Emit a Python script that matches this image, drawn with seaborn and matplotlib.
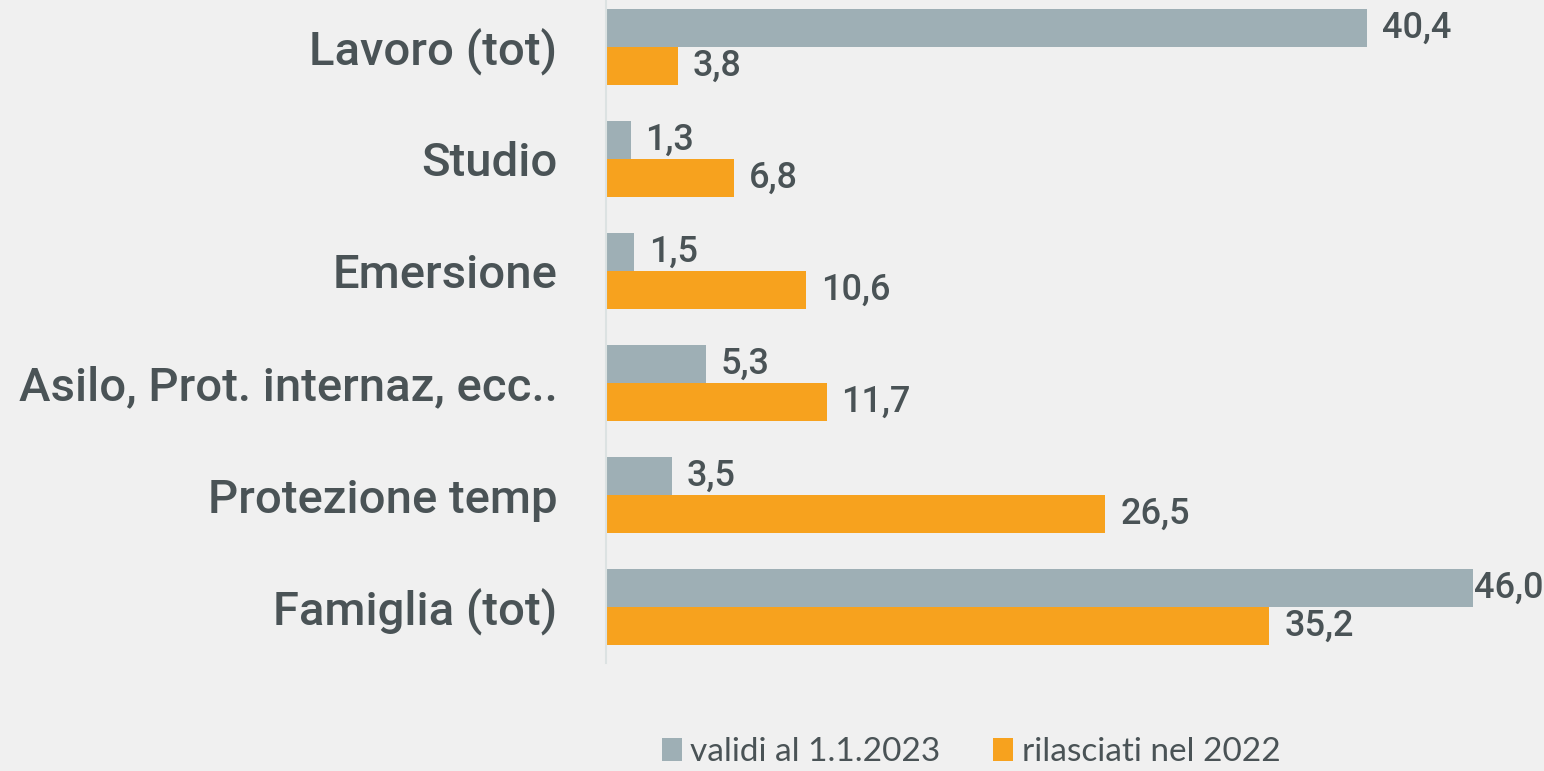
import matplotlib
matplotlib.use("Agg")
import matplotlib.pyplot as plt
import seaborn as sns
import pandas as pd
from matplotlib.patches import Patch

categories = ["Lavoro (tot)", "Studio", "Emersione", "Asilo, Prot. internaz, ecc..",
              "Protezione temp", "Famiglia (tot)"]
series_names = ["validi al 1.1.2023", "rilasciati nel 2022"]
validi = [40.4, 1.3, 1.5, 5.3, 3.5, 46.0]
rilasciati = [3.8, 6.8, 10.6, 11.7, 26.5, 35.2]

colors = ["#9EAFB5", "#F7A21E"]
text_color = "#4A5356"
bg = "#F0F0F0"

df = pd.DataFrame({
    "cat": categories * 2,
    "serie": [series_names[0]] * len(categories) + [series_names[1]] * len(categories),
    "val": validi + rilasciati,
})

sns.set_theme(style="white")
plt.rcParams["font.family"] = ["Roboto", "DejaVu Sans"]

W, H = 1544, 771
fig = plt.figure(figsize=(W / 100, H / 100), dpi=100, facecolor=bg)
xmax = 49.0
ppu = 867 / 46.0
ax_w = xmax * ppu
ax = fig.add_axes([606 / W, 1 - 663 / H, ax_w / W, 672 / H])
ax.set_facecolor(bg)

sns.barplot(data=df, y="cat", x="val", hue="serie", order=categories,
            hue_order=series_names, palette=colors, width=0.68, orient="h",
            saturation=1, ax=ax, legend=False, linewidth=0, edgecolor="none")
ax.set_xlim(0, xmax)
ax.set_ylim(5.5, -0.5)
ax.set_xlabel("")
ax.set_ylabel("")
ax.set_xticks([])
for s in ["top", "right", "bottom"]:
    ax.spines[s].set_visible(False)
ax.spines["left"].set_color("#DCE2E2")
ax.spines["left"].set_linewidth(1.5)
ax.tick_params(axis="y", length=0, pad=35, labelsize=34, labelcolor=text_color)
for lab in ax.get_yticklabels():
    lab.set_fontweight("medium")

for cont in ax.containers:
    for bar in cont:
        v = bar.get_width()
        y = bar.get_y() + bar.get_height() / 2
        txt = f"{v:.1f}".replace(".", ",")
        off = 15 if v < 45 else 1
        ax.annotate(txt, xy=(v, y), xytext=(off, 0), textcoords="offset pixels",
                    ha="left", va="center", fontsize=26, fontweight="medium",
                    color=text_color, annotation_clip=False)

handles = [Patch(facecolor=c, edgecolor="none") for c in colors]
fig.legend(handles, series_names, loc="center", bbox_to_anchor=(971 / W, 1 - 752 / H),
           ncol=2, frameon=False, prop={"family": ["Lato", "DejaVu Sans"], "size": 24},
           labelcolor=text_color, handlelength=0.6, handleheight=0.7,
           handletextpad=0.25, columnspacing=1.6)

fig.savefig("out.png", dpi=100, facecolor=bg)
